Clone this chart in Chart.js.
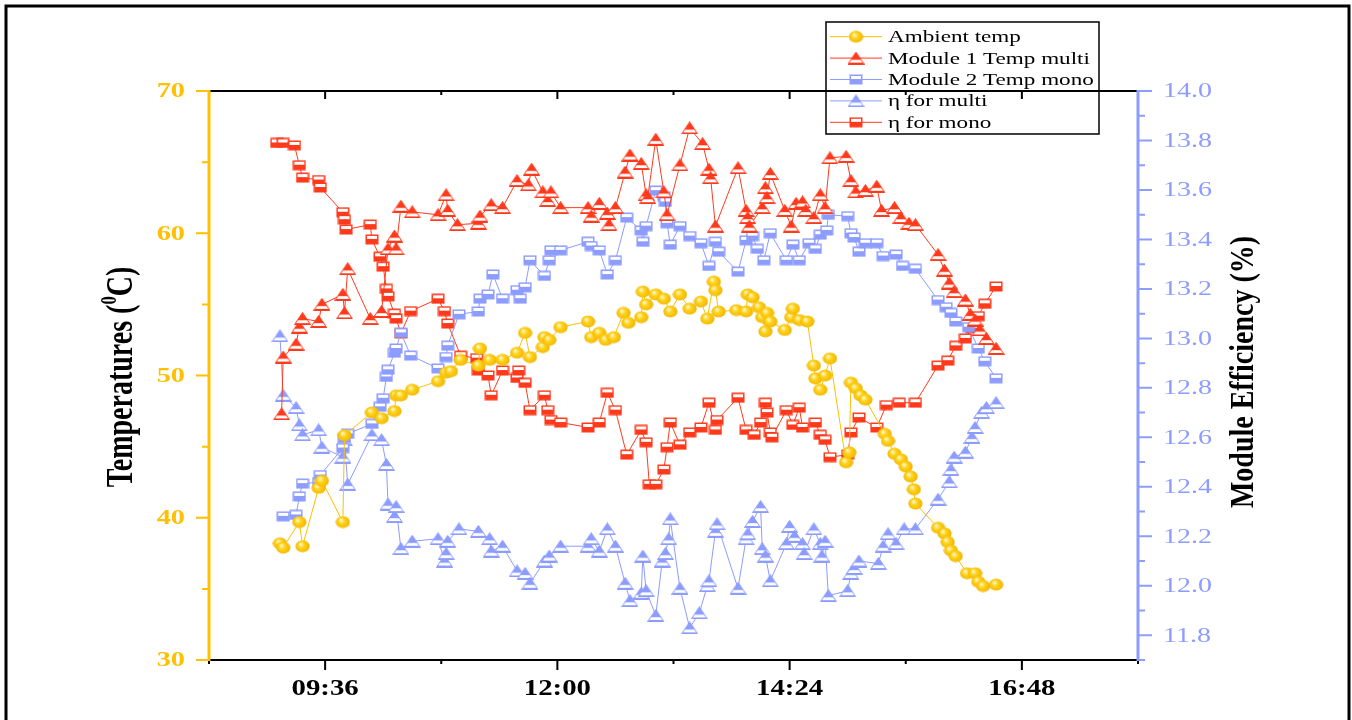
<!DOCTYPE html>
<html>
<head>
<meta charset="utf-8">
<script src="https://cdn.jsdelivr.net/npm/chart.js@4"></script>
<style>
  html, body { margin: 0; padding: 0; background: #fff; }
  #wrap { position: relative; width: 1352px; height: 720px; }
</style>
</head>
<body>
<div id="wrap"><canvas id="myChart"></canvas></div>
<script>
// ---- data ----
const ambTime = ["09:08","09:10","09:20","09:22","09:32","09:34","09:47","09:48","10:05","10:11","10:19","10:20","10:23","10:30","10:46","10:51","10:54","11:00","11:11","11:12","11:18","11:26","11:35","11:40","11:43","11:51","11:52","11:55","12:02","12:19","12:21","12:26","12:30","12:35","12:41","12:44","12:52","12:53","12:55","13:01","13:06","13:10","13:16","13:22","13:29","13:33","13:37","13:38","13:40","13:51","13:57","13:58","14:01","14:05","14:07","14:09","14:10","14:12","14:21","14:25","14:26","14:30","14:35","14:39","14:40","14:43","14:46","14:49","14:59","15:01","15:02","15:05","15:08","15:11","15:23","15:25","15:29","15:33","15:36","15:39","15:41","15:42","15:56","16:00","16:02","16:04","16:07","16:14","16:19","16:21","16:24","16:32"];
const ambTemp = [38.2,37.9,39.7,38.0,42.1,42.6,39.7,45.8,47.4,47.0,47.5,48.6,48.6,49.0,49.6,50.2,50.3,51.1,50.7,51.9,51.1,51.1,51.6,53.0,51.3,52.0,52.7,52.5,53.4,53.8,52.7,53.0,52.5,52.7,54.4,53.7,54.1,55.9,55.0,55.7,55.4,54.5,55.7,54.7,55.2,54.0,56.6,56.0,54.5,54.6,54.5,55.7,55.5,54.8,54.1,53.1,54.4,53.8,53.2,54.1,54.7,53.9,53.8,50.7,49.8,49.0,50.0,51.2,43.9,44.6,49.5,49.1,48.6,48.3,45.9,45.4,44.5,44.1,43.6,42.9,42.0,41.0,39.3,38.9,38.3,37.7,37.3,36.1,36.1,35.5,35.2,35.3];

const m1Time = ["09:09","09:10","09:18","09:20","09:22","09:32","09:34","09:47","09:48","09:50","10:04","10:11","10:15","10:19","10:20","10:23","10:30","10:46","10:51","10:52","10:58","11:11","11:12","11:19","11:26","11:35","11:42","11:44","11:51","11:54","11:56","12:02","12:19","12:21","12:26","12:31","12:32","12:36","12:42","12:45","12:52","12:55","12:56","13:01","13:06","13:08","13:16","13:22","13:30","13:34","13:35","13:38","13:52","13:57","13:58","13:59","14:07","14:09","14:10","14:12","14:21","14:25","14:28","14:32","14:34","14:39","14:43","14:46","14:49","14:59","15:02","15:05","15:11","15:18","15:21","15:29","15:33","15:38","15:42","15:56","16:00","16:03","16:06","16:13","16:16","16:19","16:22","16:26","16:32"];
const m1Temp = [47.3,51.3,52.2,53.4,54.0,53.8,55.0,55.7,54.4,57.5,54.0,54.5,58.9,59.8,58.9,61.9,61.5,61.3,62.7,61.6,60.6,60.7,61.2,62.0,61.8,63.7,63.4,64.5,62.9,62.3,62.9,61.8,61.8,61.2,62.1,61.4,60.6,61.8,64.3,65.5,64.9,62.7,62.5,66.6,62.9,61.3,64.8,67.4,66.3,64.5,63.9,60.5,64.6,61.6,61.1,60.5,61.8,63.2,62.5,64.2,61.6,60.5,62.1,62.2,61.6,61.1,62.7,61.8,65.3,65.4,63.7,62.9,63.0,63.3,61.6,61.8,61.1,60.7,60.6,58.5,57.4,56.5,55.9,55.3,54.3,53.9,53.2,52.6,51.9];

const m2Time = ["09:10","09:18","09:20","09:22","09:32","09:33","09:47","09:48","09:50","10:05","10:10","10:12","10:14","10:15","10:19","10:20","10:23","10:29","10:46","10:51","10:52","10:59","11:11","11:12","11:17","11:20","11:26","11:35","11:37","11:40","11:43","11:52","11:55","11:56","12:02","12:19","12:21","12:26","12:31","12:36","12:43","12:52","12:53","12:55","13:01","13:06","13:07","13:08","13:10","13:16","13:22","13:29","13:34","13:38","13:40","13:52","13:57","14:01","14:04","14:08","14:12","14:22","14:26","14:30","14:36","14:40","14:43","14:47","14:48","15:00","15:02","15:04","15:07","15:11","15:18","15:22","15:30","15:34","15:42","15:56","16:01","16:04","16:07","16:15","16:21","16:25","16:32"];
const m2Temp = [40.1,40.2,41.5,42.4,42.5,43.0,44.9,45.6,45.9,46.6,47.8,48.4,49.9,50.4,51.6,51.9,53.0,51.4,50.5,51.3,52.1,54.3,54.5,55.4,55.7,57.1,55.4,56.0,55.4,56.2,58.1,57.0,58.1,58.8,58.8,59.4,59.1,58.8,57.1,58.1,61.1,60.2,59.4,60.5,63.0,62.6,62.2,60.7,59.2,60.5,59.8,59.3,57.7,59.4,58.7,57.3,59.5,59.8,58.9,58.1,60.0,58.1,59.2,58.1,59.3,58.9,59.9,60.2,61.3,61.2,60.0,59.7,58.7,59.3,59.3,58.4,58.5,57.7,57.5,55.3,54.8,54.4,53.8,53.4,51.9,51.0,49.8];

const etaMultiTime = ["09:08","09:10","09:18","09:20","09:22","09:32","09:34","09:47","09:48","09:50","10:05","10:11","10:14","10:15","10:19","10:20","10:23","10:30","10:46","10:50","10:51","10:52","10:59","11:11","11:18","11:19","11:26","11:35","11:40","11:43","11:52","11:55","12:02","12:19","12:21","12:26","12:31","12:36","12:42","12:45","12:52","12:53","12:55","13:01","13:05","13:07","13:09","13:10","13:16","13:22","13:28","13:33","13:34","13:38","13:39","13:52","13:57","13:58","14:01","14:06","14:07","14:09","14:12","14:22","14:24","14:27","14:32","14:33","14:39","14:43","14:44","14:46","14:48","15:00","15:02","15:04","15:07","15:19","15:22","15:25","15:30","15:35","15:42","15:56","16:03","16:04","16:06","16:13","16:17","16:19","16:23","16:26","16:32"];
const etaMulti = [13.01,12.77,12.72,12.65,12.61,12.63,12.56,12.52,12.59,12.41,12.61,12.59,12.49,12.33,12.28,12.32,12.15,12.18,12.19,12.10,12.13,12.18,12.23,12.22,12.19,12.14,12.16,12.06,12.05,12.01,12.10,12.12,12.16,12.16,12.19,12.14,12.23,12.16,12.01,11.94,11.97,12.12,11.98,11.88,12.10,12.13,12.19,12.27,11.99,11.83,11.89,12.00,12.02,12.22,12.25,11.99,12.19,12.21,12.26,12.32,12.15,12.12,12.02,12.17,12.24,12.20,12.17,12.13,12.23,12.17,12.12,12.18,11.96,11.98,12.05,12.07,12.10,12.09,12.16,12.21,12.17,12.23,12.23,12.35,12.42,12.47,12.52,12.54,12.60,12.64,12.70,12.72,12.74];

const etaMonoTime = ["09:06","09:10","09:17","09:20","09:22","09:32","09:33","09:47","09:48","09:49","10:04","10:05","10:10","10:12","10:14","10:15","10:19","10:20","10:23","10:29","10:46","10:50","10:52","11:00","11:10","11:11","11:17","11:19","11:26","11:35","11:36","11:40","11:43","11:52","11:54","11:56","12:02","12:19","12:26","12:31","12:36","12:43","12:52","12:55","12:57","13:01","13:06","13:08","13:10","13:16","13:22","13:29","13:34","13:38","13:39","13:52","13:57","14:02","14:06","14:09","14:10","14:12","14:13","14:22","14:26","14:30","14:32","14:40","14:43","14:46","14:49","15:00","15:02","15:07","15:18","15:24","15:32","15:42","15:56","16:02","16:07","16:13","16:17","16:21","16:25","16:32"];
const etaMono = [13.79,13.79,13.78,13.70,13.65,13.64,13.61,13.51,13.48,13.44,13.46,13.40,13.33,13.29,13.20,13.17,13.10,13.08,13.02,13.11,13.16,13.11,13.06,12.93,12.92,12.87,12.85,12.77,12.87,12.84,12.87,12.82,12.71,12.77,12.71,12.67,12.66,12.64,12.66,12.78,12.71,12.53,12.63,12.58,12.41,12.41,12.47,12.56,12.66,12.57,12.62,12.64,12.74,12.63,12.67,12.76,12.63,12.61,12.66,12.74,12.70,12.62,12.60,12.71,12.65,12.72,12.64,12.66,12.61,12.59,12.52,12.53,12.62,12.68,12.64,12.73,12.74,12.74,12.89,12.91,12.97,13.00,13.04,13.09,13.14,13.21];

// axis ticks
const xTickLabels = ["09:36","12:00","14:24","16:48"];
const xMinorLabels = ["08:24","10:48","13:12","15:36","18:00"];
const tempTicks = [30,40,50,60,70];
const tempMinor = [35,45,55,65];
const effTicks = [11.8,12.0,12.2,12.4,12.6,12.8,13.0,13.2,13.4,13.6,13.8,14.0];
const effMinor = [11.7,11.9,12.1,12.3,12.5,12.7,12.9,13.1,13.3,13.5,13.7,13.9];

const RED = "#ff3a1c";
const BLUE = "#8c9cff";
const YELLOW = "#ffc000";
const SERIF = "'Liberation Serif', 'Times New Roman', serif";

function toMin(t) {
  const p = t.split(":");
  return (+p[0]) * 60 + (+p[1]);
}
function pts(times, vals) {
  return times.map((t, i) => ({ x: toMin(t), y: vals[i] }));
}

// little marker images, like the Origin symbols
function makeMarker(kind, color) {
  const c = document.createElement("canvas");
  const g = c.getContext("2d");
  if (kind === "ball") {
    c.width = 15; c.height = 13;
    const grad = g.createRadialGradient(5.5, 4.5, 0.5, 7.5, 6.5, 8);
    grad.addColorStop(0, "#fff6cc");
    grad.addColorStop(0.35, "#ffd319");
    grad.addColorStop(1, "#efae00");
    g.fillStyle = grad;
    g.beginPath();
    g.ellipse(7.5, 6.5, 7.1, 6.1, 0, 0, Math.PI * 2);
    g.fill();
  } else if (kind === "tri") {
    c.width = 17; c.height = 13;
    g.beginPath();
    g.moveTo(8.5, 0.5); g.lineTo(16.5, 12.5); g.lineTo(0.5, 12.5); g.closePath();
    g.fillStyle = color;
    g.fill();
    g.save(); g.clip();
    g.fillStyle = "#fff";
    g.fillRect(0, 8.2, 17, 2.8);
    g.restore();
    g.strokeStyle = color; g.lineWidth = 1;
    g.stroke();
  } else {
    c.width = 14; c.height = 11;
    g.fillStyle = color;
    g.fillRect(0.5, 0.5, 13, 10);
    g.fillStyle = "#fff";
    g.fillRect(2, 2, 10, 3);
  }
  return c;
}

const ball = makeMarker("ball", YELLOW);
const redTri = makeMarker("tri", RED);
const blueTri = makeMarker("tri", BLUE);
const blueSq = makeMarker("sq", BLUE);
const redSq = makeMarker("sq", RED);

function stretchText(ctx, text, x, y, k, align) {
  ctx.save();
  ctx.translate(x, y);
  ctx.scale(k, 1);
  ctx.textAlign = align;
  ctx.fillText(text, 0, 0);
  ctx.restore();
}

// vertical title; parts = [text, sizeFactor, rise]
function rotTitle(ctx, parts, baseX, midY, size, k) {
  ctx.save();
  ctx.translate(baseX, midY);
  ctx.rotate(-Math.PI / 2);
  ctx.scale(1, k);
  ctx.fillStyle = "#000";
  ctx.textAlign = "left";
  ctx.textBaseline = "alphabetic";
  let total = 0;
  parts.forEach(p => {
    ctx.font = "bold " + (size * p[1]) + "px " + SERIF;
    total += ctx.measureText(p[0]).width;
  });
  let x = -total / 2;
  parts.forEach(p => {
    ctx.font = "bold " + (size * p[1]) + "px " + SERIF;
    ctx.fillText(p[0], x, -p[2] * size);
    x += ctx.measureText(p[0]).width;
  });
  ctx.restore();
}

const axesPlugin = {
  id: "axes",
  beforeDraw(chart) {
    const c = chart.ctx;
    c.save();
    c.fillStyle = "#fff";
    c.fillRect(0, 0, chart.width, chart.height);
    c.restore();
  },
  afterDraw(chart) {
    const ctx = chart.ctx, a = chart.chartArea;
    const sx = chart.scales.x, sl = chart.scales.y, sr = chart.scales.y1;
    ctx.save();

    // outer frame
    ctx.strokeStyle = "#000";
    ctx.lineWidth = 3;
    ctx.beginPath();
    ctx.moveTo(6, 730); ctx.lineTo(6, 6); ctx.lineTo(1349, 6); ctx.lineTo(1349, 730);
    ctx.stroke();

    // top and bottom axes
    ctx.lineWidth = 2;
    ctx.beginPath();
    ctx.moveTo(a.left, a.top); ctx.lineTo(a.right, a.top);
    ctx.moveTo(a.left, a.bottom); ctx.lineTo(a.right, a.bottom);
    xTickLabels.forEach(t => {
      const p = sx.getPixelForValue(toMin(t));
      ctx.moveTo(p, a.bottom); ctx.lineTo(p, a.bottom + 10);
      ctx.moveTo(p, a.top); ctx.lineTo(p, a.top + 8);
    });
    xMinorLabels.forEach(t => {
      const p = sx.getPixelForValue(toMin(t));
      ctx.moveTo(p, a.bottom); ctx.lineTo(p, a.bottom + 4);
      ctx.moveTo(p, a.top); ctx.lineTo(p, a.top + 4);
    });
    ctx.stroke();
    ctx.fillStyle = "#000";
    ctx.font = "bold 24px " + SERIF;
    ctx.textBaseline = "middle";
    xTickLabels.forEach(t => {
      stretchText(ctx, t, sx.getPixelForValue(toMin(t)), 689, 1.2, "center");
    });

    // left axis (temperatures)
    ctx.strokeStyle = YELLOW;
    ctx.lineWidth = 3;
    ctx.beginPath();
    ctx.moveTo(a.left, a.top - 1); ctx.lineTo(a.left, a.bottom + 1);
    ctx.stroke();
    ctx.lineWidth = 2;
    ctx.beginPath();
    tempTicks.forEach(v => {
      const p = sl.getPixelForValue(v);
      ctx.moveTo(a.left, p); ctx.lineTo(a.left - 13, p);
    });
    tempMinor.forEach(v => {
      const p = sl.getPixelForValue(v);
      ctx.moveTo(a.left, p); ctx.lineTo(a.left - 7, p);
    });
    ctx.stroke();
    ctx.fillStyle = YELLOW;
    ctx.font = "bold 21px " + SERIF;
    tempTicks.forEach(v => {
      stretchText(ctx, String(v), 185, sl.getPixelForValue(v) + 1, 1.35, "right");
    });

    // right axis (efficiency)
    ctx.strokeStyle = BLUE;
    ctx.lineWidth = 3;
    ctx.beginPath();
    ctx.moveTo(a.right, a.top - 1); ctx.lineTo(a.right, a.bottom + 1);
    ctx.stroke();
    ctx.lineWidth = 2;
    ctx.beginPath();
    effTicks.forEach(v => {
      const p = sr.getPixelForValue(v);
      ctx.moveTo(a.right, p); ctx.lineTo(a.right + 14, p);
    });
    effMinor.forEach(v => {
      const p = sr.getPixelForValue(v);
      ctx.moveTo(a.right, p); ctx.lineTo(a.right + 7, p);
    });
    ctx.stroke();
    ctx.fillStyle = BLUE;
    ctx.font = "20px " + SERIF;
    effTicks.forEach(v => {
      stretchText(ctx, v.toFixed(1), 1163, sr.getPixelForValue(v) + 1, 1.4, "left");
    });

    // axis titles
    rotTitle(ctx, [["Temperatures (", 1, 0], ["0", 0.6, 0.42], ["C)", 1, 0]], 132, 377, 28, 1.37);
    rotTitle(ctx, [["Module Efficiency (%)", 1, 0]], 1253, 372, 28, 1.22);

    // legend box
    ctx.strokeStyle = "#000";
    ctx.lineWidth = 1.5;
    ctx.strokeRect(826, 22, 273, 112);
    chart.data.datasets.forEach((ds, i) => {
      const y = 36.7 + i * 21.4;
      ctx.strokeStyle = ds.borderColor;
      ctx.lineWidth = 1;
      ctx.beginPath();
      ctx.moveTo(830, y); ctx.lineTo(882, y);
      ctx.stroke();
      const m = ds.pointStyle;
      ctx.drawImage(m, 856 - m.width / 2, y - m.height / 2);
      ctx.fillStyle = "#000";
      ctx.font = "17px " + SERIF;
      ctx.textBaseline = "middle";
      stretchText(ctx, ds.label, 888, y + 1, 1.36, "left");
    });
    ctx.restore();
  }
};

new Chart("myChart", {
  type: "line",
  data: {
    datasets: [
      { label: "Ambient temp", data: pts(ambTime, ambTemp), yAxisID: "y",
        borderColor: YELLOW, borderWidth: 1, pointStyle: ball, pointRadius: 6 },
      { label: "Module 1 Temp multi", data: pts(m1Time, m1Temp), yAxisID: "y",
        borderColor: RED, borderWidth: 1, pointStyle: redTri, pointRadius: 6 },
      { label: "Module 2 Temp mono", data: pts(m2Time, m2Temp), yAxisID: "y",
        borderColor: BLUE, borderWidth: 1, pointStyle: blueSq, pointRadius: 6 },
      { label: "\u03b7 for multi", data: pts(etaMultiTime, etaMulti), yAxisID: "y1",
        borderColor: BLUE, borderWidth: 1, pointStyle: blueTri, pointRadius: 6 },
      { label: "\u03b7 for mono", data: pts(etaMonoTime, etaMono), yAxisID: "y1",
        borderColor: RED, borderWidth: 1, pointStyle: redSq, pointRadius: 6 }
    ]
  },
  options: {
    responsive: true,
    maintainAspectRatio: false,
    animation: false,
    devicePixelRatio: 1,
    layout: { padding: { left: 209, right: 214, top: 91, bottom: 60 } },
    elements: { line: { tension: 0 } },
    plugins: { legend: { display: false }, tooltip: { enabled: false } },
    scales: {
      x: { type: "linear", min: toMin("08:24"), max: toMin("18:00"), display: false },
      y: { min: 30, max: 70, display: false },
      y1: { position: "right", min: 11.7, max: 14.0, display: false }
    }
  },
  plugins: [axesPlugin]
});
</script>
</body>
</html>
